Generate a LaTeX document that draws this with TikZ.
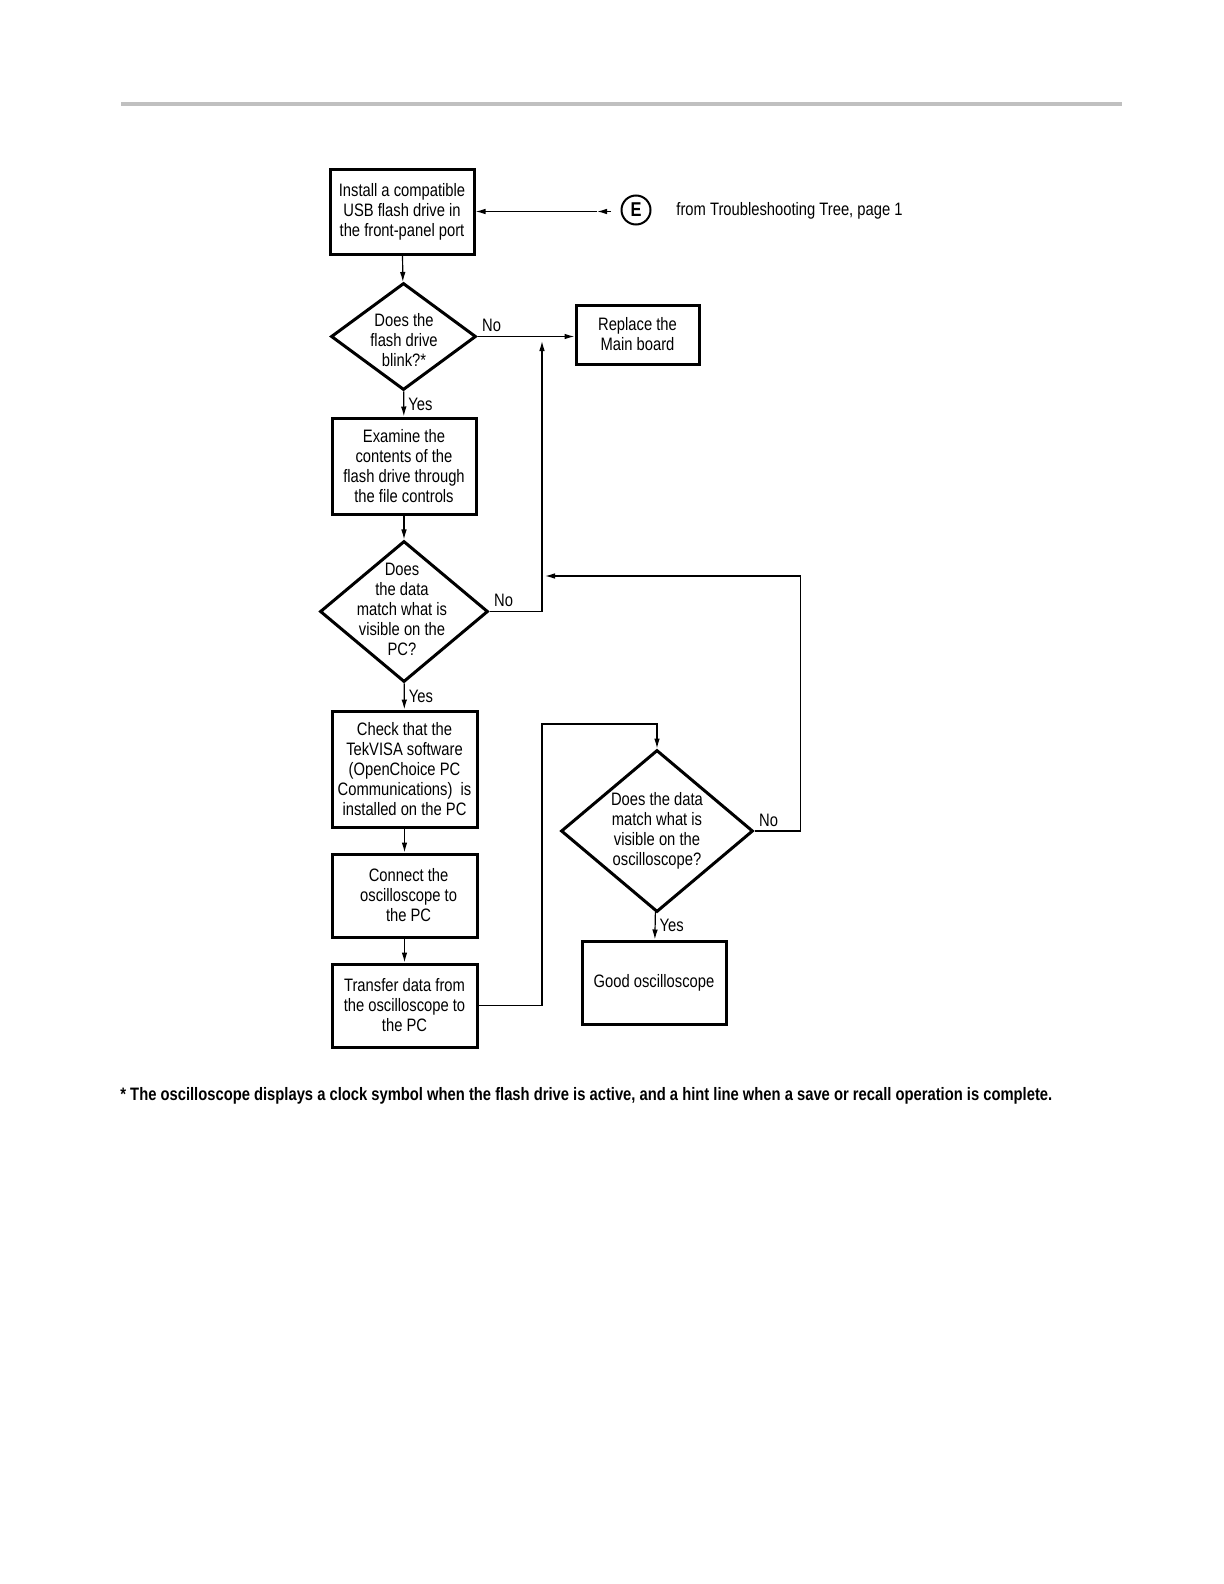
\documentclass[tikz,border=0pt]{standalone}
\usepackage{fontspec}
\setmainfont[FakeStretch=0.82]{Liberation Sans}
\usetikzlibrary{shapes.geometric,arrows.meta,positioning}
\definecolor{rulegray}{RGB}{192,192,192}
\tikzset{
  stepbox/.style={draw,line width=1.5pt,align=center,inner sep=1pt,font=\fontsize{9}{10}\selectfont},
  decision/.style={draw,diamond,line width=1.5pt,inner sep=0pt},
  qtext/.style={align=center,inner sep=0pt,font=\fontsize{9}{10}\selectfont},
  flow/.style={line width=0.6pt},
  answer/.style={inner sep=2pt,font=\fontsize{9}{10}\selectfont},
}
\begin{document}
\begin{tikzpicture}[x=0.5pt,y=-0.5pt,>={Latex[length=5pt,width=2.8pt]}]
        \useasboundingbox (0,0) rectangle (1224,1584);

        % page rule
        \draw[line width=2pt,rulegray] (121,104) -- (1122,104);

        % left column of steps
        \node[stepbox,minimum width=72pt,minimum height=42.5pt] (install) at (402,211.5)
            {Install a compatible\\USB flash drive in\\the front-panel port};
        \node[decision,minimum width=72.5pt,minimum height=53.5pt] (blink) at (403.5,336.5) {};
        \node[qtext] (blinktext) at (404,340) {Does the\\flash drive\\blink?*};
        \node[stepbox,minimum width=72pt,minimum height=48pt] (examine) at (404,466)
            {Examine the\\contents of the\\flash drive through\\the file controls};
        \node[decision,minimum width=84pt,minimum height=70.5pt] (pcmatch) at (404,611.5) {};
        \node[qtext] (pcmatchtext) at (402,609) {Does\\the data\\match what is\\visible on the\\PC?};
        \node[stepbox,minimum width=72.5pt,minimum height=58pt] (check) at (404.5,769)
            {Check that the\\TekVISA software\\(OpenChoice PC\\Communications)\ \ is\\installed on the PC};
        \node[stepbox,minimum width=72.5pt,minimum height=41.5pt] (connect) at (404.5,895.5)
            {\ \ Connect the\\\ \ oscilloscope to\\\ \ the PC};
        \node[stepbox,minimum width=72.5pt,minimum height=41.5pt] (transfer) at (404.5,1005.5)
            {Transfer data from\\the oscilloscope to\\the PC};

        % right side
        \node[stepbox,minimum width=61.5pt,minimum height=29.5pt] (replace) at (637.5,334.5)
            {Replace the\\Main board};
        \node[decision,minimum width=96pt,minimum height=81pt] (scopematch) at (657,831) {};
        \node[qtext] (scopematchtext) at (657,831) {Does the data\\match what is\\visible on the\\oscilloscope?};
        \node[stepbox,minimum width=72pt,minimum height=41.5pt] (good) at (654,982.5)
            {Good oscilloscope};

        % entry point E
        \node[circle,draw,line width=1pt,inner sep=1.5pt,minimum size=14.5pt,font=\bfseries\fontsize{10}{10}\selectfont] (entry) at (636,210) {E};
        \node[anchor=west,inner sep=0pt,font=\fontsize{9}{10}\selectfont] (entrytext) at (676,211) {from Troubleshooting Tree, page 1};
        \coordinate (etail) at (611,211.5);
        \coordinate (ehead) at (597,211.5);
        \draw[flow,->] (etail) -- (ehead);
        \draw[flow,->] (ehead) -- (install.east);

        % main flow
        \draw[flow,->] (install) -- (blink);
        \draw[flow,->] (blink) -- node[answer,right] (yes1) {Yes} (examine);
        \draw[flow,->] (examine) -- (pcmatch);
        \draw[flow,->] (pcmatch) -- node[answer,right] (yes2) {Yes} (check);
        \draw[flow,->] (check) -- (connect);
        \draw[flow,->] (connect) -- (transfer);
        \draw[flow,->] (scopematch) -- node[answer,right] (yes3) {Yes} (good);

        % No branches
        \draw[flow,->] (blink.east) node[answer,above right] (no1) {No} -- (blink.east -| replace.west);
        \coordinate (up1) at (542,341);
        \draw[flow,->] (pcmatch.east) node[answer,above right] (no2) {No} -| (up1);
        \coordinate (back1) at (545,576);
        \draw[flow,->] (scopematch.east) node[answer,above right] (no3) {No} -- ++(46,0) |- (back1);

        % transfer to the scope check
        \coordinate (over1) at (542,724);
        \draw[flow,->] (transfer.east) -| (over1) -| (scopematch.north);

        % footnote
        \node[anchor=west,inner sep=0pt,font=\bfseries\fontsize{9}{10}\selectfont] (note) at (120,1096)
            {* The oscilloscope displays a clock symbol when the flash drive is active, and a hint line when a save or recall operation is complete.};
\end{tikzpicture}
\end{document}
